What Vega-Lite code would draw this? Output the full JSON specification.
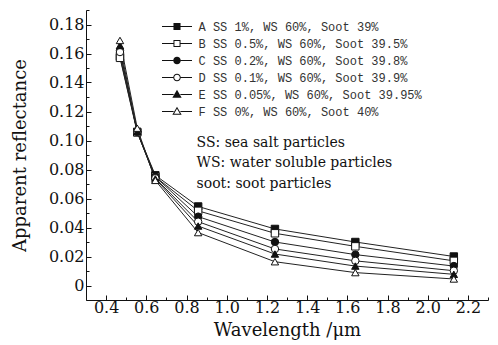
{
  "$schema": "https://vega.github.io/schema/vega-lite/v6.json",
  "width": 402,
  "height": 290,
  "autosize": "none",
  "padding": {"left": 86, "top": 10, "right": 10, "bottom": 45},
  "background": "white",
  "config": {"view": {"stroke": null}},
  "data": {"values": [
    {"series": "A SS 1%,  WS 60%, Soot 39%", "wl": 0.469, "r": 0.158},
    {"series": "A SS 1%,  WS 60%, Soot 39%", "wl": 0.555, "r": 0.106},
    {"series": "A SS 1%,  WS 60%, Soot 39%", "wl": 0.645, "r": 0.076},
    {"series": "A SS 1%,  WS 60%, Soot 39%", "wl": 0.858, "r": 0.0545},
    {"series": "A SS 1%,  WS 60%, Soot 39%", "wl": 1.24, "r": 0.039},
    {"series": "A SS 1%,  WS 60%, Soot 39%", "wl": 1.64, "r": 0.030},
    {"series": "A SS 1%,  WS 60%, Soot 39%", "wl": 2.13, "r": 0.020},
    {"series": "B SS 0.5%, WS 60%, Soot 39.5%", "wl": 0.469, "r": 0.157},
    {"series": "B SS 0.5%, WS 60%, Soot 39.5%", "wl": 0.555, "r": 0.1055},
    {"series": "B SS 0.5%, WS 60%, Soot 39.5%", "wl": 0.645, "r": 0.075},
    {"series": "B SS 0.5%, WS 60%, Soot 39.5%", "wl": 0.858, "r": 0.0515},
    {"series": "B SS 0.5%, WS 60%, Soot 39.5%", "wl": 1.24, "r": 0.036},
    {"series": "B SS 0.5%, WS 60%, Soot 39.5%", "wl": 1.64, "r": 0.027},
    {"series": "B SS 0.5%, WS 60%, Soot 39.5%", "wl": 2.13, "r": 0.017},
    {"series": "C SS 0.2%, WS 60%, Soot 39.8%", "wl": 0.469, "r": 0.162},
    {"series": "C SS 0.2%, WS 60%, Soot 39.8%", "wl": 0.555, "r": 0.106},
    {"series": "C SS 0.2%, WS 60%, Soot 39.8%", "wl": 0.645, "r": 0.075},
    {"series": "C SS 0.2%, WS 60%, Soot 39.8%", "wl": 0.858, "r": 0.0475},
    {"series": "C SS 0.2%, WS 60%, Soot 39.8%", "wl": 1.24, "r": 0.030},
    {"series": "C SS 0.2%, WS 60%, Soot 39.8%", "wl": 1.64, "r": 0.0213},
    {"series": "C SS 0.2%, WS 60%, Soot 39.8%", "wl": 2.13, "r": 0.0134},
    {"series": "D SS 0.1%, WS 60%, Soot 39.9%", "wl": 0.469, "r": 0.161},
    {"series": "D SS 0.1%, WS 60%, Soot 39.9%", "wl": 0.555, "r": 0.106},
    {"series": "D SS 0.1%, WS 60%, Soot 39.9%", "wl": 0.645, "r": 0.074},
    {"series": "D SS 0.1%, WS 60%, Soot 39.9%", "wl": 0.858, "r": 0.044},
    {"series": "D SS 0.1%, WS 60%, Soot 39.9%", "wl": 1.24, "r": 0.0252},
    {"series": "D SS 0.1%, WS 60%, Soot 39.9%", "wl": 1.64, "r": 0.017},
    {"series": "D SS 0.1%, WS 60%, Soot 39.9%", "wl": 2.13, "r": 0.0102},
    {"series": "E SS 0.05%, WS 60%, Soot 39.95%", "wl": 0.469, "r": 0.1655},
    {"series": "E SS 0.05%, WS 60%, Soot 39.95%", "wl": 0.555, "r": 0.106},
    {"series": "E SS 0.05%, WS 60%, Soot 39.95%", "wl": 0.645, "r": 0.0735},
    {"series": "E SS 0.05%, WS 60%, Soot 39.95%", "wl": 0.858, "r": 0.041},
    {"series": "E SS 0.05%, WS 60%, Soot 39.95%", "wl": 1.24, "r": 0.0217},
    {"series": "E SS 0.05%, WS 60%, Soot 39.95%", "wl": 1.64, "r": 0.0134},
    {"series": "E SS 0.05%, WS 60%, Soot 39.95%", "wl": 2.13, "r": 0.0077},
    {"series": "F SS 0%, WS 60%, Soot 40%", "wl": 0.469, "r": 0.169},
    {"series": "F SS 0%, WS 60%, Soot 40%", "wl": 0.555, "r": 0.1085},
    {"series": "F SS 0%, WS 60%, Soot 40%", "wl": 0.645, "r": 0.0725},
    {"series": "F SS 0%, WS 60%, Soot 40%", "wl": 0.858, "r": 0.0365},
    {"series": "F SS 0%, WS 60%, Soot 40%", "wl": 1.24, "r": 0.0164},
    {"series": "F SS 0%, WS 60%, Soot 40%", "wl": 1.64, "r": 0.0089},
    {"series": "F SS 0%, WS 60%, Soot 40%", "wl": 2.13, "r": 0.0045}
  ]},
  "encoding": {
    "x": {
      "field": "wl", "type": "quantitative",
      "scale": {"domain": [0.3, 2.3], "nice": false, "zero": false},
      "axis": {
        "title": "Wavelength /μm",
        "titleFont": "DejaVu Serif", "titleFontSize": 18, "titleFontWeight": "normal", "titleColor": "#111",
        "titlePadding": 4,
        "labelFont": "DejaVu Serif", "labelFontSize": 16, "labelColor": "#111",
        "values": [0.3, 0.4, 0.5, 0.6, 0.7, 0.8, 0.9, 1.0, 1.1, 1.2, 1.3, 1.4, 1.5, 1.6, 1.7, 1.8, 1.9, 2.0, 2.1, 2.2, 2.3],
        "labelExpr": "round(datum.value*10) % 2 === 0 ? format(datum.value, '.1f') : ''",
        "tickSize": {"condition": {"test": "round(datum.value*10) % 2 === 0", "value": -5}, "value": -3},
        "tickColor": "#111", "domainColor": "#111", "grid": false,
        "labelPadding": 4, "labelFlush": false, "labelOverlap": false
      }
    },
    "y": {
      "field": "r", "type": "quantitative",
      "scale": {"domain": [-0.01, 0.19], "nice": false, "zero": false},
      "axis": {
        "title": "Apparent reflectance",
        "titleFont": "DejaVu Serif", "titleFontSize": 18, "titleFontWeight": "normal", "titleColor": "#111",
        "titlePadding": 19,
        "labelFont": "DejaVu Serif", "labelFontSize": 16, "labelColor": "#111",
        "values": [0, 0.01, 0.02, 0.03, 0.04, 0.05, 0.06, 0.07, 0.08, 0.09, 0.1, 0.11, 0.12, 0.13, 0.14, 0.15, 0.16, 0.17, 0.18, 0.19],
        "labelExpr": "round(datum.value*100) % 2 === 0 ? (datum.value === 0 ? '0' : format(datum.value, '.2f')) : ''",
        "tickSize": {"condition": {"test": "round(datum.value*100) % 2 === 0", "value": -5}, "value": -3},
        "tickColor": "#111", "domainColor": "#111", "grid": false,
        "labelPadding": 7, "labelFlush": false, "labelOverlap": false
      }
    }
  },
  "layer": [
    {
      "mark": {"type": "line", "color": "#222", "strokeWidth": 1},
      "encoding": {"detail": {"field": "series"}}
    },
    {
      "mark": {"type": "point", "filled": true, "stroke": "#111", "strokeWidth": 1, "size": 55, "opacity": 1},
      "encoding": {
        "shape": {
          "field": "series", "type": "nominal",
          "scale": {"range": ["square", "square", "circle", "circle", "triangle-up", "triangle-up"]},
          "legend": null
        },
        "fill": {
          "field": "series", "type": "nominal",
          "scale": {"range": ["#111", "white", "#111", "white", "#111", "white"]},
          "legend": null
        }
      }
    },
    {
      "mark": {"type": "point", "filled": true, "fill": "#111", "stroke": "#111", "strokeWidth": 0, "size": 0, "opacity": 1},
      "encoding": {
        "shape": {
          "field": "series", "type": "nominal",
          "scale": {"range": [
            "M-2,-0.067H-0.47V0.067H-2ZM0.47,-0.067H2V0.067H0.47ZM-0.47,-0.47H0.47V0.47H-0.47Z",
            "M-2,-0.067H-0.47V0.067H-2ZM0.47,-0.067H2V0.067H0.47ZM-0.47,-0.47H0.47V0.47H-0.47ZM-0.34,-0.34V0.34H0.34V-0.34Z",
            "M-2,-0.067H-0.5V0.067H-2ZM0.5,-0.067H2V0.067H0.5ZM-0.5,0A0.5,0.5,0,1,1,0.5,0A0.5,0.5,0,1,1,-0.5,0Z",
            "M-2,-0.067H-0.5V0.067H-2ZM0.5,-0.067H2V0.067H0.5ZM-0.5,0A0.5,0.5,0,1,1,0.5,0A0.5,0.5,0,1,1,-0.5,0ZM-0.37,0A0.37,0.37,0,1,0,0.37,0A0.37,0.37,0,1,0,-0.37,0Z",
            "M-2,-0.067H-0.45V0.067H-2ZM0.45,-0.067H2V0.067H0.45ZM0,-0.62L0.62,0.42H-0.62Z",
            "M-2,-0.067H-0.45V0.067H-2ZM0.45,-0.067H2V0.067H0.45ZM0,-0.62L0.62,0.42H-0.62ZM0,-0.36L-0.386,0.287H0.386Z"
          ]},
          "legend": {
            "title": null, "orient": "none", "legendX": 83.5, "legendY": 9, "padding": 0,
            "symbolSize": 225, "symbolStrokeWidth": 0, "symbolFillColor": "#111",
            "labelFont": "Liberation Mono", "labelFontSize": 12, "labelColor": "#333", "labelLimit": 0,
            "labelOffset": 14, "rowPadding": 3
          }
        }
      }
    },
    {
      "transform": [{"aggregate": [{"op": "min", "field": "wl", "as": "wl"}, {"op": "min", "field": "r", "as": "r"}]}],
      "mark": {"type": "text", "text": ["SS: sea salt particles", "WS: water soluble particles", "soot: soot particles"], "font": "DejaVu Serif", "fontSize": 14, "align": "left", "baseline": "top", "lineHeight": 20.5, "color": "#111"},
      "encoding": {"x": {"datum": 0.85}, "y": {"datum": 0.1032}}
    }
  ],
  "resolve": {"scale": {"shape": "independent"}}
}
